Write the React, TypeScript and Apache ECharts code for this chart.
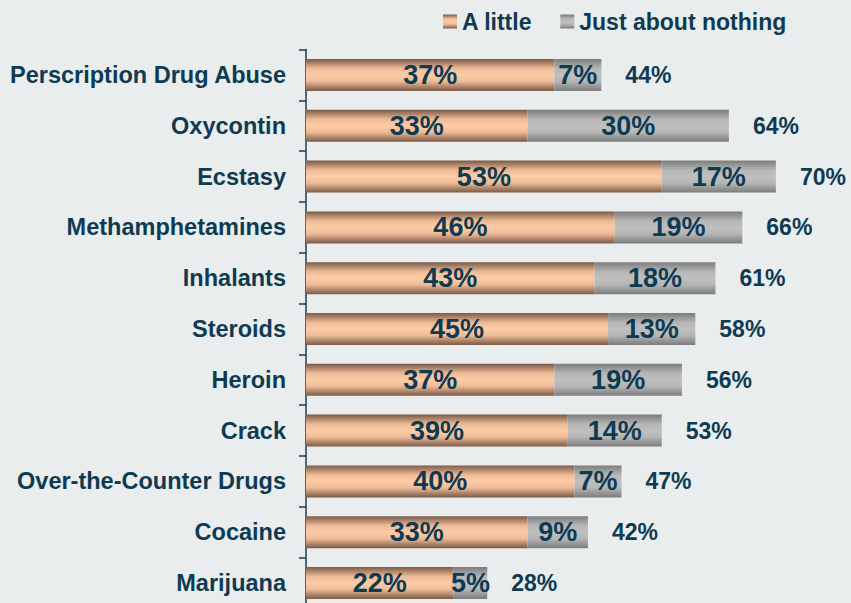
import React, { useEffect, useRef } from "react";
import * as echarts from "echarts";

const categories = [
  "Perscription Drug Abuse",
  "Oxycontin",
  "Ecstasy",
  "Methamphetamines",
  "Inhalants",
  "Steroids",
  "Heroin",
  "Crack",
  "Over-the-Counter Drugs",
  "Cocaine",
  "Marijuana",
];
const aLittle = [37, 33, 53, 46, 43, 45, 37, 39, 40, 33, 22];
const justAboutNothing = [7, 30, 17, 19, 18, 13, 19, 14, 7, 9, 5];
const totals = [44, 64, 70, 66, 61, 58, 56, 53, 47, 42, 28];
const seriesNames = ["A little", "Just about nothing"];

const TEXT = "#0e3a52";
const FONT = "'Liberation Sans', Arial, sans-serif";

const peach = new echarts.graphic.LinearGradient(0, 0, 0, 1, [
  { offset: 0, color: "#7a5a47" },
  { offset: 0.3, color: "#efbb97" },
  { offset: 0.5, color: "#fdcca6" },
  { offset: 0.7, color: "#efbb97" },
  { offset: 1, color: "#7a5a47" },
]);
const grey = new echarts.graphic.LinearGradient(0, 0, 0, 1, [
  { offset: 0, color: "#7c7c7c" },
  { offset: 0.3, color: "#b6b6b6" },
  { offset: 0.5, color: "#bfbfbf" },
  { offset: 0.7, color: "#b6b6b6" },
  { offset: 1, color: "#7c7c7c" },
]);

export default function App() {
  const ref = useRef<HTMLDivElement>(null);
  useEffect(() => {
    if (!ref.current) return;
    const chart = echarts.init(ref.current, null, { renderer: "svg" });
    const insideLabel = {
      show: true,
      position: "inside",
      formatter: "{c}%",
      color: TEXT,
      fontSize: 27,
      fontWeight: "bold",
      fontFamily: FONT,
    };
    chart.setOption({
      animation: false,
      backgroundColor: "#e9edee",
      legend: {
        data: seriesNames,
        icon: "rect",
        left: 438,
        top: 5,
        itemWidth: 14,
        itemHeight: 14,
        itemGap: 28,
        textStyle: {
          color: TEXT,
          fontSize: 23,
          fontWeight: "bold",
          fontFamily: FONT,
        },
      },
      grid: {
        left: 306,
        top: 49.6,
        width: 537,
        height: 558.8,
        containLabel: false,
        outerBoundsMode: "none",
      },
      xAxis: {
        type: "value",
        min: 0,
        max: 80,
        show: false,
      },
      yAxis: {
        type: "category",
        data: categories,
        inverse: true,
        axisLine: { show: true, lineStyle: { color: "#1b3a4e", width: 1.5 } },
        axisTick: { show: true, length: 7, lineStyle: { color: "#1b3a4e", width: 1.5 } },
        axisLabel: {
          margin: 20,
          color: TEXT,
          fontSize: 23.5,
          fontWeight: "bold",
          fontFamily: FONT,
        },
        splitLine: { show: false },
      },
      series: [
        {
          name: seriesNames[0],
          type: "bar",
          stack: "total",
          barWidth: 32,
          data: aLittle,
          itemStyle: { color: peach },
          label: insideLabel,
        },
        {
          name: seriesNames[1],
          type: "bar",
          stack: "total",
          barWidth: 32,
          data: justAboutNothing,
          itemStyle: { color: grey },
          label: insideLabel,
        },
        {
          name: "Total",
          type: "bar",
          stack: "total",
          barWidth: 32,
          data: totals.map(() => 0),
          itemStyle: { color: "transparent" },
          label: {
            show: true,
            position: "right",
            distance: 24,
            formatter: (p: any) => totals[p.dataIndex] + "%",
            color: TEXT,
            fontSize: 23,
            fontWeight: "bold",
            fontFamily: FONT,
          },
        },
      ],
    });
    return () => chart.dispose();
  }, []);
  return (
    <div
      ref={ref}
      style={{ position: "absolute", left: 0, top: 0, width: 851, height: 603 }}
    />
  );
}
